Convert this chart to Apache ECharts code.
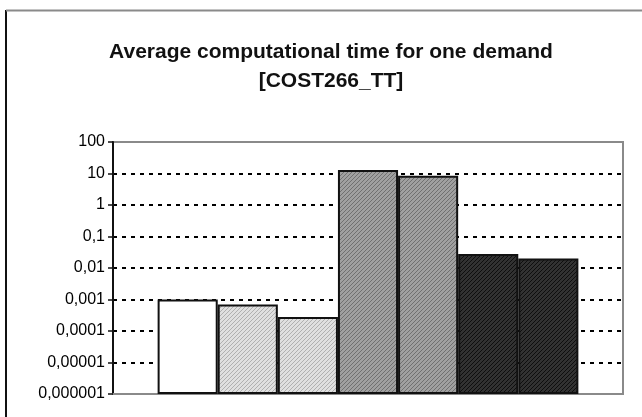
<!DOCTYPE html>
<html>
<head>
<meta charset="utf-8">
<script src="https://cdn.jsdelivr.net/npm/echarts@6/dist/echarts.min.js"></script>
<style>
  html, body { margin: 0; padding: 0; background: #fff; }
  #chart { width: 642px; height: 417px; }
</style>
</head>
<body>
<div id="chart"></div>
<script>
// Average time per demand (seconds), one bar per method, log scale
const categories = ['COST266_TT'];
const seriesNames = ['M1', 'M2', 'M3', 'M4', 'M5', 'M6', 'M7'];
const seriesValues = [0.001, 0.0007, 0.00028, 13, 8.5, 0.028, 0.02];
const tickLabels = ['0,000001', '0,00001', '0,0001', '0,001', '0,01', '0,1', '1', '10', '100'];

// Hatched fills: base colour with fine diagonal strokes
function hatch(base, stroke) {
  const c = document.createElement('canvas');
  c.width = 4; c.height = 4;
  const g = c.getContext('2d');
  g.fillStyle = base;
  g.fillRect(0, 0, 4, 4);
  g.strokeStyle = stroke;
  g.lineWidth = 1;
  g.beginPath();
  g.moveTo(-1, 5); g.lineTo(5, -1);
  g.moveTo(-1, 1); g.lineTo(1, -1);
  g.moveTo(3, 5); g.lineTo(5, 3);
  g.stroke();
  return { image: c, repeat: 'repeat' };
}

const fills = [
  '#ffffff',
  hatch('#e0e0e0', '#b0b0b0'),
  hatch('#e0e0e0', '#b0b0b0'),
  hatch('#a0a0a0', '#707070'),
  hatch('#a0a0a0', '#707070'),
  hatch('#323232', '#0e0e0e'),
  hatch('#323232', '#0e0e0e')
];

// grid line colours per tick, bottom to top (edges left to the axis/border)
const gridColors = tickLabels.map((_, i) => (i === 0 || i === tickLabels.length - 1) ? 'transparent' : '#000');

const chart = echarts.init(document.getElementById('chart'), null, { renderer: 'canvas' });

chart.setOption({
  animation: false,
  backgroundColor: '#fff',
  title: {
    text: 'Average computational time for one demand\n[COST266_TT]',
    left: 326,
    top: 33,
    textAlign: 'center',
    textStyle: {
      fontFamily: 'Liberation Sans, Arial, sans-serif',
      fontSize: 21,
      fontWeight: 'bold',
      color: '#111',
      lineHeight: 29
    }
  },
  grid: {
    left: 113, right: 19, top: 142, bottom: 23,
    show: true,
    borderColor: '#8a8a8a',
    borderWidth: 2,
    backgroundColor: '#fff'
  },
  graphic: [
    { type: 'line', shape: { x1: 6, y1: 10, x2: 6, y2: 417 }, style: { stroke: '#111', lineWidth: 2 } },
    { type: 'line', shape: { x1: 6, y1: 10.5, x2: 642, y2: 10.5 }, style: { stroke: '#8a8a8a', lineWidth: 2 } }
  ],
  xAxis: {
    type: 'category',
    data: categories,
    axisLine: { lineStyle: { color: '#8a8a8a', width: 2 } },
    axisTick: { show: false },
    axisLabel: { show: false }
  },
  yAxis: {
    type: 'log',
    logBase: 10,
    min: 1e-6,
    max: 100,
    interval: 1,
    startValue: 1e-6,
    axisLine: { show: true, lineStyle: { color: '#111', width: 2 } },
    axisTick: { show: true, length: 5, lineStyle: { color: '#111', width: 1.5 } },
    axisLabel: {
      margin: 8,
      fontFamily: 'Liberation Sans, Arial, sans-serif',
      fontSize: 16,
      color: '#000',
      formatter: function (v) {
        return tickLabels[Math.round(Math.log10(v)) + 6];
      }
    },
    splitLine: {
      show: true,
      lineStyle: { color: gridColors, width: 2, type: [4, 5] }
    }
  },
  series: seriesNames.map((name, i) => ({
    name: name,
    type: 'bar',
    data: [seriesValues[i]],
    barGap: '0%',
    barCategoryGap: '17.5%',
    itemStyle: { color: fills[i], borderColor: '#111', borderWidth: 2 }
  }))
});
</script>
</body>
</html>
